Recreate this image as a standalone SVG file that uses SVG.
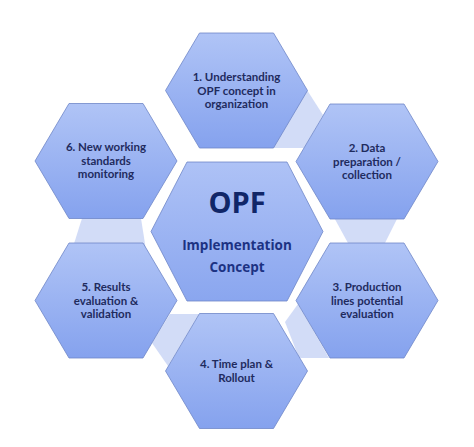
<svg xmlns="http://www.w3.org/2000/svg" width="474" height="447" viewBox="0 0 474 447">
<defs>
<linearGradient id="hg" x1="0" y1="0" x2="0" y2="1">
<stop offset="0" stop-color="#b0c4f6"/>
<stop offset="1" stop-color="#85a2ee"/>
</linearGradient>
<linearGradient id="cg" x1="0" y1="0" x2="0" y2="1">
<stop offset="0" stop-color="#aec2f6"/>
<stop offset="1" stop-color="#8aa6ef"/>
</linearGradient>
<polygon id="hex" points="-37,-57.5 37,-57.5 71,0 37,57.5 -37,57.5 -71,0"/>
</defs>
<style>
.hex{fill:url(#hg);stroke:#6f87c8;stroke-width:0.8}
.band{fill:#d2dcf7}
.t{font-family:Lato,"Open Sans","Liberation Sans",sans-serif;font-weight:bold;font-size:11.5px;fill:#1f2b5e;text-anchor:middle}
.c{font-family:"Open Sans",Lato,"Liberation Sans",sans-serif;font-weight:bold;fill:#1c3283;text-anchor:middle}
</style>
<rect width="474" height="447" fill="#ffffff"/>
<g id="connectors">
<polygon class="band" points="307,90 323,115 304,148 273,148"/>
<polygon class="band" points="331,212 400.5,212 381.5,250 351.8,250"/>
<polygon class="band" points="285,322 298,304 329,358 299,358"/>
<polygon class="band" points="170,314 199,314 168,366 152,343"/>
<polygon class="band" points="84,212 140,212 146,250 72,250"/>
</g>
<g id="node-center">
<polygon points="187,162 287,162 323,231.5 287,301 187,301 151,231.5" fill="url(#cg)" stroke="#6f87c8" stroke-width="0.8"/>
<text class="c" x="237" y="213" font-size="29" style="fill:#102668">OPF</text>
<text class="c" x="237" y="250" font-size="13.5">Implementation</text>
<text class="c" x="237" y="272" font-size="13.5">Concept</text>
</g>
<g id="node-1">
<use href="#hex" class="hex" x="236.5" y="90.5"/>
<text class="t" x="236.5" y="81">1. Understanding</text>
<text class="t" x="236.5" y="94.5">OPF concept in</text>
<text class="t" x="236.5" y="108">organization</text>
</g>
<g id="node-2">
<use href="#hex" class="hex" x="367" y="161.5"/>
<text class="t" x="367" y="152">2. Data</text>
<text class="t" x="367" y="165.5">preparation /</text>
<text class="t" x="367" y="179">collection</text>
</g>
<g id="node-3">
<use href="#hex" class="hex" x="367" y="300.5"/>
<text class="t" x="367" y="291">3. Production</text>
<text class="t" x="367" y="304.5">lines potential</text>
<text class="t" x="367" y="318">evaluation</text>
</g>
<g id="node-4">
<use href="#hex" class="hex" x="236.5" y="371"/>
<text class="t" x="236.5" y="368">4. Time plan &amp;</text>
<text class="t" x="236.5" y="381.5">Rollout</text>
</g>
<g id="node-5">
<use href="#hex" class="hex" x="106" y="300.5"/>
<text class="t" x="106" y="291">5. Results</text>
<text class="t" x="106" y="304.5">evaluation &amp;</text>
<text class="t" x="106" y="318">validation</text>
</g>
<g id="node-6">
<use href="#hex" class="hex" x="106" y="161"/>
<text class="t" x="106" y="151">6. New working</text>
<text class="t" x="106" y="164.5">standards</text>
<text class="t" x="106" y="178">monitoring</text>
</g>
</svg>
